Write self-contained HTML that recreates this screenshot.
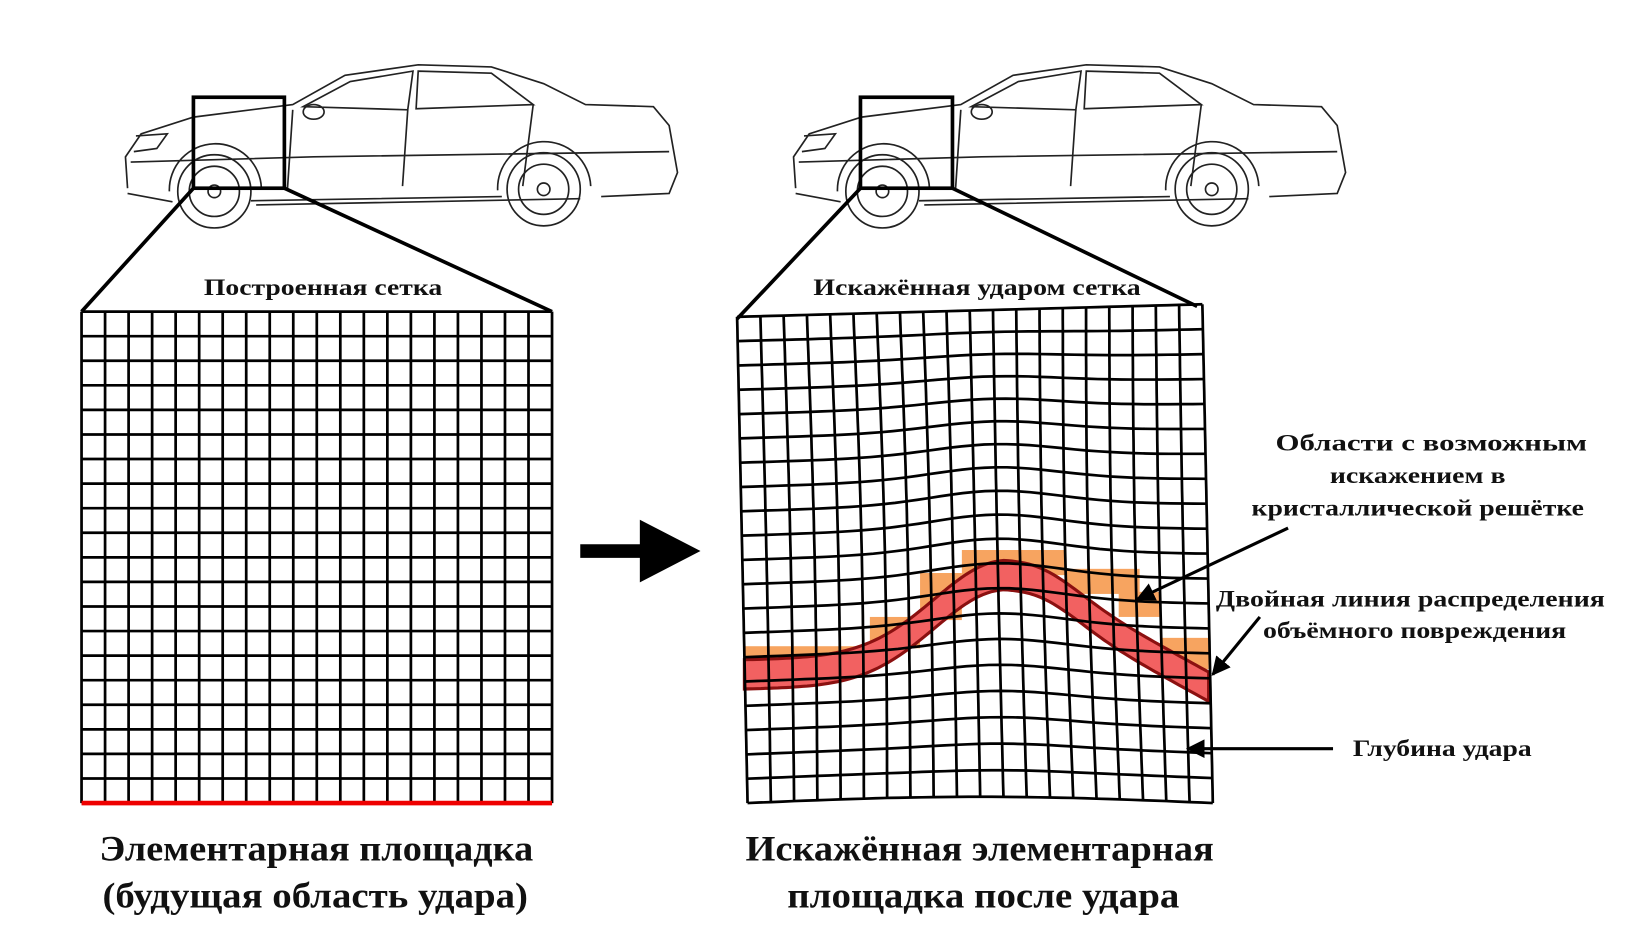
<!DOCTYPE html>
<html><head><meta charset="utf-8"><style>
html,body{margin:0;padding:0;background:#fff}
svg{display:block}
text{font-family:"Liberation Serif","DejaVu Serif",serif;font-weight:bold;fill:#111}
</style></head><body>
<svg id="s" width="1631" height="939" viewBox="0 0 1560 898" preserveAspectRatio="none" xmlns="http://www.w3.org/2000/svg">
<defs><marker id="ah" viewBox="0 0 10 10" refX="9" refY="5" markerWidth="6" markerHeight="6" orient="auto"><path d="M0,0 L10,5 L0,10 z" fill="#000"/></marker></defs>
<g id="car1" fill="none" stroke="#222" stroke-width="1.6">
<path d="M122,180 L120,150 L135,128 L185,112 L280,100 L330,72 L400,62 L470,64 L520,80 L560,100 L625,102 L640,120 L648,165 L640,185 L575,188 M555,190 L245,196 M165,193 L122,185"/>
<path d="M290,102 L335,78 L395,68 L390,105 Z M400,68 L470,70 L510,100 L398,104 Z"/>
<path d="M125,155 L300,150 L640,145 M240,192 L480,188"/>
<path d="M280,105 L275,180 M390,105 L385,178 M510,100 L500,178"/>
<circle cx="205" cy="183" r="35"/><circle cx="205" cy="183" r="24"/><circle cx="205" cy="183" r="6"/>
<circle cx="520" cy="181" r="35"/><circle cx="520" cy="181" r="24"/><circle cx="520" cy="181" r="6"/>
<path d="M162,183 A44,44 0 0 1 250,180 M476,182 A44,44 0 0 1 565,178"/>
<ellipse cx="300" cy="107" rx="10" ry="7"/>
<path d="M130,130 L160,128 L150,142 L128,145"/>
</g>
<use href="#car1" x="639" y="0"/>
<g stroke="#000" stroke-width="3.5" fill="none">
<rect x="185" y="93" width="87" height="87"/>
<rect x="823" y="93" width="88" height="87"/>
<path d="M185,180 L78,298 M272,180 L528,298"/>
<path d="M823,180 L705,305 M911,180 L1145,293"/>
</g>
<g id="lg" stroke="#000" stroke-width="2.6"></g>
<line x1="78" y1="768" x2="528" y2="768" stroke="#e00" stroke-width="4.5"/>
<g id="orange" fill="#f7a460"></g>
<path id="band" fill="#f26161" stroke="#8b1010" stroke-width="3"/>
<g id="rg" stroke="#000" stroke-width="2.6" fill="none"></g>
<path d="M555,527 L615,527" stroke="#000" stroke-width="13"/>
<path d="M612,497 L670,527 L612,557 Z" fill="#000"/>
<g stroke="#000" stroke-width="3" marker-end="url(#ah)">
<line x1="1232" y1="505" x2="1088" y2="573"/>
<line x1="1205" y1="590" x2="1160" y2="645"/>
<line x1="1275" y1="716" x2="1136" y2="716"/>
</g>
<text x="195" y="282" font-size="22" textLength="228" lengthAdjust="spacingAndGlyphs">Построенная сетка</text>
<text x="778" y="282" font-size="22" textLength="313" lengthAdjust="spacingAndGlyphs">Искажённая ударом сетка</text>
<text x="1220" y="431" font-size="22" textLength="298" lengthAdjust="spacingAndGlyphs">Области с возможным</text>
<text x="1272" y="462" font-size="22" textLength="168" lengthAdjust="spacingAndGlyphs">искажением в</text>
<text x="1197" y="493" font-size="22" textLength="318" lengthAdjust="spacingAndGlyphs">кристаллической решётке</text>
<text x="1163" y="580" font-size="22" textLength="372" lengthAdjust="spacingAndGlyphs">Двойная линия распределения</text>
<text x="1208" y="610" font-size="22" textLength="290" lengthAdjust="spacingAndGlyphs">объёмного повреждения</text>
<text x="1294" y="723" font-size="22" textLength="171" lengthAdjust="spacingAndGlyphs">Глубина удара</text>
<text x="95" y="823" font-size="34" textLength="415" lengthAdjust="spacingAndGlyphs">Элементарная площадка</text>
<text x="98" y="868" font-size="34" textLength="407" lengthAdjust="spacingAndGlyphs">(будущая область удара)</text>
<text x="713" y="823" font-size="34" textLength="448" lengthAdjust="spacingAndGlyphs">Искажённая элементарная</text>
<text x="753" y="868" font-size="34" textLength="375" lengthAdjust="spacingAndGlyphs">площадка после удара</text>
</svg>
<script>
var NS="http://www.w3.org/2000/svg";
function el(p,t,a){var e=document.createElementNS(NS,t);for(var k in a)e.setAttribute(k,a[k]);p.appendChild(e);return e;}
var lg=document.getElementById('lg');
for(var i=0;i<=20;i++){var x=78+i*22.5;el(lg,'line',{x1:x,y1:298,x2:x,y2:768});var y=298+i*23.5;el(lg,'line',{x1:78,y1:y,x2:528,y2:y});}
function P(u,v){
 var b=Math.exp(-Math.pow((u-0.55)/0.2,2));
 var a=Math.sin(Math.PI*v)*1.0;
 var x=705+u*445+v*10+Math.sin(Math.PI*2*u)*3*a;
 var y=303+v*465-14*a*b+ (1-v)*(-12*u)+ v*(-6*Math.sin(Math.PI*u));
 return [x,y];}
var rg=document.getElementById('rg');
for(var i=0;i<=20;i++){var d1='',d2='';for(var j=0;j<=40;j++){var p=P(i/20,j/40);d1+=(j?'L':'M')+p[0].toFixed(1)+','+p[1].toFixed(1);var q=P(j/40,i/20);d2+=(j?'L':'M')+q[0].toFixed(1)+','+q[1].toFixed(1);}
el(rg,'path',{d:d1});el(rg,'path',{d:d2});}
function curve(x,off){var yc;
 if(x<=962){var g=Math.exp(-Math.pow((x-962)/95,2));var base=645-(x-712)*0.02;yc=base-(base-550)*g;}
 else{var g2=Math.exp(-Math.pow((x-962)/60,2));var lin=550+(x-962)*0.55;yc=lin*(1-g2)+(550+(x-962)*0.1)*g2;}
 return yc+off;}
var dTop='',dBot='';for(var x=712;x<=1156;x+=4){dTop+=(x==712?'M':'L')+x+','+curve(x,-14).toFixed(1);}
for(var x=1156;x>=712;x-=4){dBot+='L'+x+','+curve(x,14).toFixed(1);}
document.getElementById('band').setAttribute('d',dTop+dBot+'Z');
var og=document.getElementById('orange');
[[712,618,120,24],[832,590,48,30],[880,548,40,45],[920,526,100,24],[1020,544,70,24],[1070,566,40,24],[1110,610,46,30]].forEach(function(r){el(og,'rect',{x:r[0],y:r[1],width:r[2],height:r[3]});});
</script>
</body></html>
